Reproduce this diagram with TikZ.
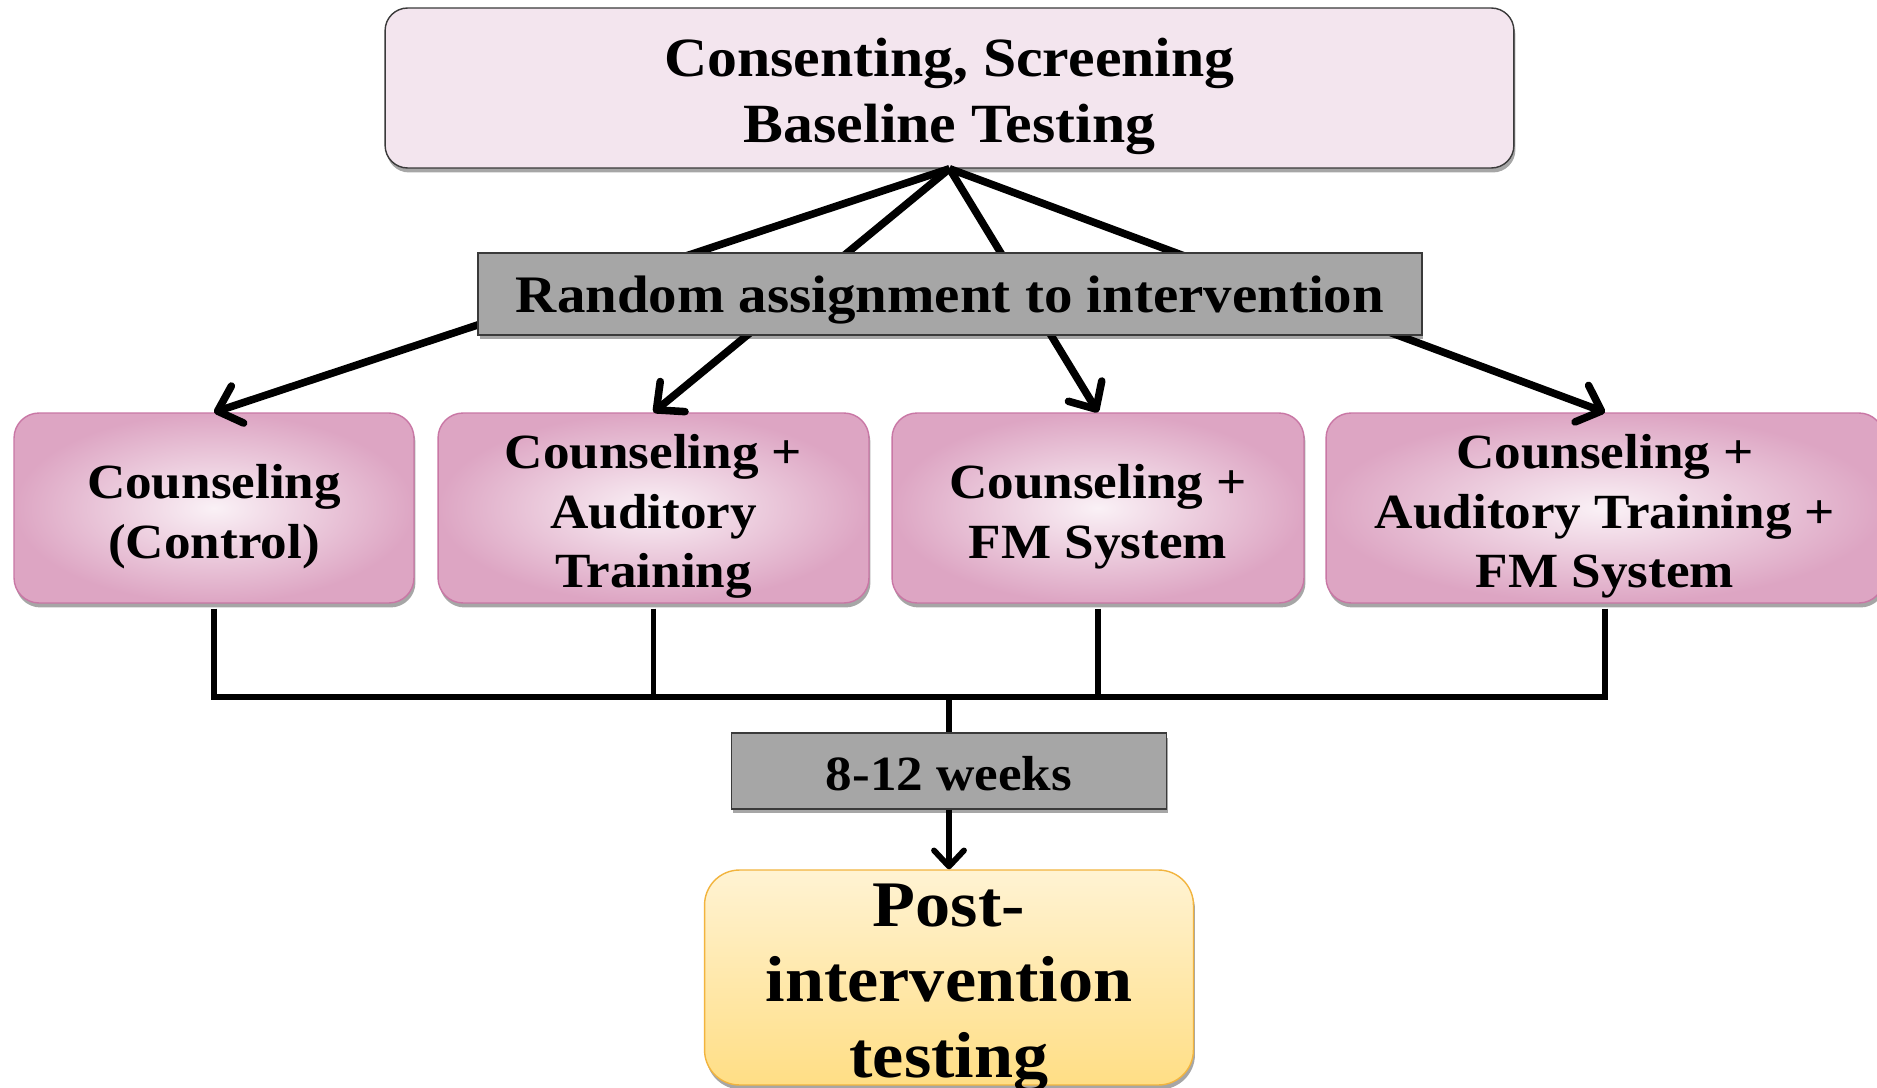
\documentclass[tikz,border=0pt]{standalone}
\usepackage{fontspec}
\setmainfont{Liberation Serif}[FakeStretch=1.08]
\usetikzlibrary{arrows.meta,shadows}
\definecolor{pinkin}{HTML}{FAF1F6}
\definecolor{pinkout}{HTML}{DDA5C3}
\definecolor{pinkedge}{HTML}{C977A5}
\definecolor{topfill}{HTML}{F3E5EE}
\definecolor{grayfill}{HTML}{A6A6A6}
\definecolor{edgegray}{HTML}{3A3A3A}
\definecolor{posttop}{HTML}{FFF3D3}
\definecolor{postbot}{HTML}{FFDE85}
\definecolor{postedge}{HTML}{F2B43E}
\tikzset{
  softshadow/.style={drop shadow={shadow xshift=0.03cm, shadow yshift=-0.09cm, opacity=0.35, fill=black}},
  topbox/.style={draw=edgegray, line width=0.8pt, fill=topfill, rounded corners=0.45cm, softshadow,
    minimum width=22.58cm, minimum height=3.2cm},
  graybox/.style={draw=edgegray, line width=0.8pt, fill=grayfill, softshadow},
  armbox/.style={draw=pinkedge, line width=0.8pt, rounded corners=0.5cm, shading=radial,
    inner color=pinkin, outer color=pinkout, softshadow, minimum height=3.8cm},
  postbox/.style={draw=postedge, line width=0.8pt, rounded corners=0.7cm, top color=posttop,
    bottom color=postbot, softshadow, minimum width=9.78cm, minimum height=4.3cm},
  lbl/.style={align=center, inner sep=0pt, font=\fontsize{28}{34}\selectfont\bfseries},
  flow/.style={line width=4.3pt, -{Straight Barb[length=0.42cm,width=0.78cm,round,line width=4.3pt]}},
  thinflow/.style={line width=3.3pt, -{Straight Barb[length=0.32cm,width=0.6cm,round,line width=3.3pt]}},
  bus/.style={line width=3.3pt},
}
\begin{document}
\begin{tikzpicture}[x=0.02cm,y=-0.02cm]
\useasboundingbox (0,0) rectangle (1877,1088);
\fill[white] (0,0) rectangle (1877,1088);
\node[topbox] (top) at (949.5,88) {};
\node[lbl, font=\fontsize{31.5}{37.5}\selectfont\bfseries] (topt) at ([yshift=-0.17cm]top.center) {Consenting, Screening\\Baseline Testing};
\node[armbox, minimum width=8cm] (b1) at (214,508) {};
\node[armbox, minimum width=8.62cm] (b2) at (653.5,508) {};
\node[armbox, minimum width=8.24cm] (b3) at (1098,508) {};
\node[armbox, minimum width=11.16cm] (b4) at (1605,508) {};
\node[lbl] (b1t) at ([yshift=-0.17cm]b1.center) {Counseling\\(Control)};
\node[lbl] (b2t) at ([yshift=-0.17cm]b2.center) {Counseling +\\Auditory\\Training};
\node[lbl] (b3t) at ([yshift=-0.17cm]b3.center) {Counseling +\\FM System};
\node[lbl] (b4t) at ([yshift=-0.17cm]b4.center) {Counseling +\\Auditory Training +\\FM System};
\draw[flow] (top.south) -- (b1.north);
\draw[flow] (top.south) -- (b2.north);
\draw[flow] (top.south) -- (b3.north);
\draw[flow] (top.south) -- (b4.north);
\node[graybox, minimum width=18.88cm, minimum height=1.64cm] (rand) at (950,294) {};
\node[lbl, font=\fontsize{30}{36}\selectfont\bfseries] (randt) at ([yshift=-0.12cm]rand.center) {Random assignment to intervention};
\node[graybox, minimum width=8.7cm, minimum height=1.52cm] (weeks) at (949,771) {};
\node[lbl, font=\fontsize{28}{34}\selectfont\bfseries] (weekst) at ([yshift=-0.06cm]weeks.center) {8-12 weeks};
\node[postbox] (post) at (949,977.5) {};
\node[lbl, font=\fontsize{37}{43}\selectfont\bfseries] (postt) at ([yshift=-0.2cm]post.center) {Post-\\intervention\\testing};
\coordinate (join) at (949,697);
\draw[bus] ([yshift=-0.1cm]b1.south) |- (join);
\draw[bus] ([yshift=-0.1cm]b2.south) |- (join);
\draw[bus] ([yshift=-0.1cm]b3.south) |- (join);
\draw[bus] ([yshift=-0.1cm]b4.south) |- (join);
\draw[bus] (join) -- (weeks.north);
\draw[thinflow] (weeks.south) -- (post.north);
\end{tikzpicture}
\end{document}
